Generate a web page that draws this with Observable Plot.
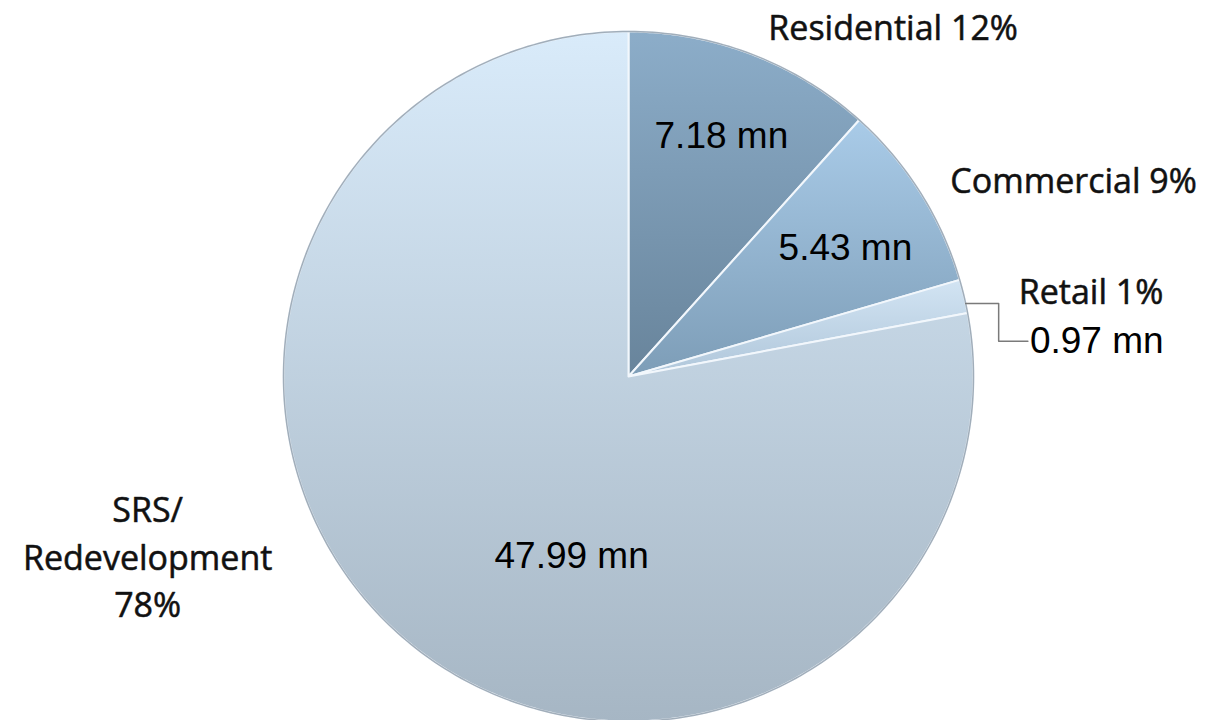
<!DOCTYPE html>
<html>
<head>
<meta charset="utf-8">
<script src="https://cdn.jsdelivr.net/npm/d3@7"></script>
<script src="https://cdn.jsdelivr.net/npm/@observablehq/plot@0.6"></script>
<style>
  html, body { margin: 0; padding: 0; background: #ffffff; }
  #chart { width: 1205px; height: 720px; overflow: hidden; }
</style>
</head>
<body>
<div id="chart"></div>
<script>
// ---- data ----
const categories = ["Residential", "Commercial", "Retail", "SRS/\nRedevelopment"];
const values = [7.18, 5.43, 0.97, 47.99];
const percentLabels = ["12%", "9%", "1%", "78%"];
const valueUnit = "mn";

// ---- layout (pixels) ----
const W = 1205, H = 720;
const CX = 628, CY = 376, R = 345;
const gradients = [
  ["g0", "#8cadc9", "#68849b"],
  ["g1", "#a9cbe8", "#7d9db7"],
  ["g2", "#d2e4f3", "#afc6da"],
  ["g3", "#d9ebfa", "#a6b6c4"]
];

// pie angles (clockwise from 12 o'clock)
const arcs = d3.pie().sort(null).startAngle(0).endAngle(2 * Math.PI)(values);
const polar = (a, r) => ({x: r * Math.sin(a), y: r * Math.cos(a)});

// slice polygons in data units (1 = radius)
const slices = arcs.map((arc, i) => {
  const pts = [{cat: categories[i], x: 0, y: 0}];
  const n = Math.max(4, Math.ceil((arc.endAngle - arc.startAngle) / (Math.PI / 360)));
  for (let k = 0; k <= n; k++) {
    const a = arc.startAngle + (arc.endAngle - arc.startAngle) * k / n;
    pts.push({cat: categories[i], ...polar(a, 1)});
  }
  pts.push({cat: categories[i], x: 0, y: 0});
  return pts;
});

// label layout: angle tweak (deg) and radius factor relative to each slice's mid-angle
const outerLayout = [
  {da: 0.9, r: 1.087, anchor: "start"},
  {da: 1.0, r: 1.09, anchor: "start"},
  {da: 1.3, r: 1.157, anchor: "start"},
  {da: 29.6, r: 1.49, anchor: "middle"}
];
const innerLayout = [
  {da: 0.1, r: 0.748},
  {da: 1.6, r: 0.73},
  null,
  {da: -22.1, r: 0.545}
];
const retailValueLayout = {da: 8.4, r: 1.168};

const deg = Math.PI / 180;
const mid = arcs.map(a => (a.startAngle + a.endAngle) / 2);

const outerLabels = arcs.map((a, i) => ({
  ...polar(mid[i] + outerLayout[i].da * deg, outerLayout[i].r),
  text: categories[i] + (i === 3 ? "\n" : " ") + percentLabels[i],
  anchor: outerLayout[i].anchor
}));
const innerLabels = arcs.map((a, i) => innerLayout[i] ? ({
  ...polar(mid[i] + innerLayout[i].da * deg, innerLayout[i].r),
  text: values[i].toFixed(2) + " " + valueUnit
}) : null).filter(d => d);
const retailValue = {
  ...polar(mid[2] + retailValueLayout.da * deg, retailValueLayout.r),
  text: values[2].toFixed(2) + " " + valueUnit
};

// leader line for Retail: slice edge -> elbow -> label
const u = 1 / R; // one pixel in data units
const edge = polar(mid[2] + 1.2 * deg, 1.0);
const leader = [
  edge,
  {x: edge.x + 33 * u, y: edge.y},
  {x: edge.x + 33 * u, y: retailValue.y},
  {x: retailValue.x - 2 * u, y: retailValue.y}
];

// outer rim
const rim = d3.range(0, 361, 1).map(d => polar(d * deg, 1));

const xDomain = [-CX / R, (W - CX) / R];
const yDomain = [-(H - CY) / R, CY / R];

const labelFont = "'Open Sans', 'DejaVu Sans', sans-serif";
const valueFont = "'Liberation Sans', Arial, sans-serif";
const labelStyle = {
  x: "x", y: "y", text: "text", dy: -4,
  fontSize: 34, fontFamily: labelFont, fill: "#111", lineHeight: 1.41,
  lineAnchor: "middle", stroke: "#333", strokeWidth: 0.6
};
const valueStyle = {
  x: "x", y: "y", text: "text",
  fontSize: 37, fontFamily: valueFont, fill: "#000", lineAnchor: "middle"
};

const svg = Plot.plot({
  width: W,
  height: H,
  margin: 0,
  x: {domain: xDomain, axis: null},
  y: {domain: yDomain, axis: null},
  marks: [
    ...slices.map((pts, i) => Plot.line(pts, {
      x: "x", y: "y",
      fill: `url(#${gradients[i][0]})`,
      stroke: "#f2f7fc", strokeWidth: 2, strokeLinejoin: "round"
    })),
    Plot.line(rim, {x: "x", y: "y", stroke: "#7f8f9e", strokeWidth: 1.5, strokeOpacity: 0.7}),
    Plot.line(leader, {x: "x", y: "y", stroke: "#7a7a7a", strokeWidth: 1.5}),
    Plot.text(outerLabels.filter(d => d.anchor === "start"), {...labelStyle, textAnchor: "start"}),
    Plot.text(outerLabels.filter(d => d.anchor === "middle"), {...labelStyle, textAnchor: "middle"}),
    Plot.text(innerLabels, valueStyle),
    Plot.text([retailValue], {...valueStyle, textAnchor: "start"})
  ]
});

// vertical gradients for slices
const ns = "http://www.w3.org/2000/svg";
const defs = document.createElementNS(ns, "defs");
for (const [id, top, bottom] of gradients) {
  const g = document.createElementNS(ns, "linearGradient");
  g.setAttribute("id", id);
  g.setAttribute("x1", "0"); g.setAttribute("y1", "0");
  g.setAttribute("x2", "0"); g.setAttribute("y2", "1");
  const s1 = document.createElementNS(ns, "stop");
  s1.setAttribute("offset", "0"); s1.setAttribute("stop-color", top);
  const s2 = document.createElementNS(ns, "stop");
  s2.setAttribute("offset", "1"); s2.setAttribute("stop-color", bottom);
  g.appendChild(s1); g.appendChild(s2);
  defs.appendChild(g);
}
svg.insertBefore(defs, svg.firstChild);
document.getElementById("chart").appendChild(svg);
</script>
</body>
</html>
